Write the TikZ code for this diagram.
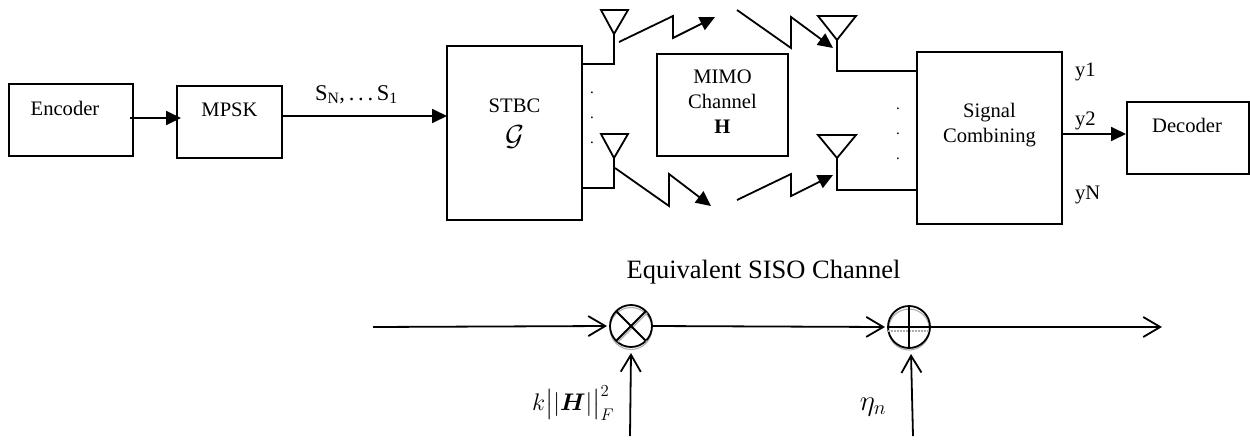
\RequirePackage{fix-cm}
\documentclass[tikz,border=0pt]{standalone}
\usepackage{amsmath}
\usepackage{fontspec}
\setmainfont{Liberation Serif}
\usetikzlibrary{arrows.meta}
\tikzset{
  box/.style={draw=black,line width=1.8pt,fill=none,inner sep=0pt,outer sep=0pt},
  lbl/.style={inner sep=0pt,outer sep=0pt,align=center,font=\fontsize{20.6}{25}\selectfont},
  biglbl/.style={inner sep=0pt,outer sep=0pt,font=\fontsize{26.5}{30}\selectfont},
  subslbl/.style={inner sep=0pt,outer sep=0pt,font=\fontsize{22.5}{26}\selectfont},
  mathlbl/.style={inner sep=0pt,outer sep=0pt,font=\fontsize{24}{28}\selectfont},
  etalbl/.style={inner sep=0pt,outer sep=0pt,font=\fontsize{29}{32}\selectfont},
  dotlbl/.style={inner sep=0pt,outer sep=0pt,anchor=base,font=\fontsize{15}{18}\selectfont},
  wire/.style={draw=black,line width=1.8pt,line join=miter},
  solidarr/.style={wire,-{Triangle[length=15pt,width=14pt]}},
  openarr/.style={wire,-{Straight Barb[length=17pt,width=20pt,line width=1.8pt]}},
  sumnode/.style={circle,draw=black,line width=1.8pt,inner sep=0pt,outer sep=0pt,minimum size=42pt},
  shadow/.style={draw=gray!65,line width=1.1pt},
}
\begin{document}
\begin{tikzpicture}[x=1pt,y=-1pt]
\useasboundingbox (0,0) rectangle (1250,439);
% boxes
\node[box,minimum width=124pt,minimum height=72pt] (enc) at (71,120) {};
\node[box,minimum width=105pt,minimum height=72pt] (mpsk) at (229.5,122) {};
\node[box,minimum width=135pt,minimum height=174pt] (stbc) at (514.5,133) {};
\node[box,minimum width=131pt,minimum height=102pt] (mimo) at (722.5,105) {};
\node[box,minimum width=145pt,minimum height=172pt] (comb) at (989.5,138) {};
\node[box,minimum width=122pt,minimum height=72pt] (dec) at (1188,138) {};
% box texts
\node[lbl] (tenc) at (65,108) {Encoder};
\node[lbl] (tmpsk) at (229.5,110) {MPSK};
\node[lbl] (tstbc) at (514.5,106) {STBC};
\node[etalbl] (tg) at (514.5,137) {$\mathcal{G}$};
\node[lbl] (tmimo) at (722.5,102) {MIMO\\Channel\\\textbf{H}};
\node[lbl] (tcomb) at (989.5,125) {Signal\\Combining};
\node[lbl] (tdec) at (1187,125) {Decoder};
\node[subslbl,anchor=base west] (ts) at (315,100) {S\textsubscript{N},\,.\,.\,.\,S\textsubscript{1}};
\node[lbl,anchor=base west] (y1) at (1075,76) {y1};
\node[lbl,anchor=base west] (y2) at (1075,125) {y2};
\node[lbl,anchor=base west] (yN) at (1075,199) {yN};
\node[biglbl,anchor=base] (teq) at (763.5,278) {Equivalent SISO Channel};
\node[mathlbl] (tk) at (573,403) {$k\big||\boldsymbol{H}|\big|_F^2$};
\node[etalbl] (teta) at (873,407) {$\eta_n$};
% dots
\foreach \i/\y in {1/93,2/118,3/143}{\node[dotlbl] (dl\i) at (592,\y) {.};}
\foreach \i/\y in {1/109,2/134,3/159}{\node[dotlbl] (dr\i) at (898,\y) {.};}
% antennas
\coordinate (a1) at (614,34);
\coordinate (a2) at (614,158);
\coordinate (a3) at (837,40);
\coordinate (a4) at (837,158);
\draw[wire] (601,10) -- (628,10) -- (a1) -- cycle;
\draw[wire] (601,134) -- (628,134) -- (a2) -- cycle;
\draw[wire] (818,16) -- (856,16) -- (a3) -- cycle;
\draw[wire] (818,135) -- (856,135) -- (a4) -- cycle;
\draw[wire] (a1) |- (stbc.east |- 0,64);
\draw[wire] (a2) |- (stbc.east |- 0,188);
\draw[wire] (a3) |- (comb.west |- 0,71);
\draw[wire] (a4) |- (comb.west |- 0,190);
% zigzags
\draw[solidarr] (619,42) -- (673,16) -- (673,38) -- (715,17);
\draw[solidarr] (737,10) -- (791,48) -- (791,17) -- (833,48);
\draw[solidarr] (615,168) -- (669,206) -- (669,174) -- (711,206);
\draw[solidarr] (737,200) -- (791,174) -- (791,196) -- (833,175);
% top arrows
\draw[solidarr] ([xshift=-3pt,yshift=2pt]enc.east) -- ([xshift=4pt,yshift=4pt]mpsk.west);
\draw[solidarr] ([yshift=6pt]mpsk.east) -- ([yshift=17pt]stbc.west);
\draw[solidarr] ([yshift=4pt]comb.east) -- ([xshift=-1pt,yshift=4pt]dec.west);
% summing nodes
\draw[shadow] (631,328.5) circle (21);
\draw[shadow] (909,329.5) circle (20.5);
\node[sumnode] (mul) at (631,326) {};
\node[sumnode] (add) at (909,327) {};
\draw[shadow] ([xshift=1.5pt,yshift=-1.5pt]mul.north west) -- ([xshift=1.5pt,yshift=-1.5pt]mul.south east);
\draw[shadow] ([xshift=1.5pt,yshift=-1.5pt]mul.south west) -- ([xshift=1.5pt,yshift=-1.5pt]mul.north east);
\draw[shadow,dashed,dash pattern=on 2pt off 1pt] ([yshift=-4pt]add.west) -- ([yshift=-4pt]add.east);
\draw[wire] (mul.north west) -- (mul.south east);
\draw[wire] (mul.south west) -- (mul.north east);
\draw[wire] (add.north) -- (add.south);
\draw[wire] (add.west) -- (add.east);
% equivalent channel connectors
\coordinate (in) at (373,327);
\coordinate (out) at (1162,327);
\coordinate (k) at (630,436);
\coordinate (n) at (913,436);
\draw[openarr] (in) -- ([xshift=-3pt]mul.west);
\draw[openarr] (mul.east) -- ([xshift=-3pt]add.west);
\draw[openarr] (add.east) -- (out);
\draw[openarr] (k) -- ([yshift=-6pt]mul.south);
\draw[openarr] (n) -- ([xshift=2pt,yshift=-6pt]add.south);
\end{tikzpicture}
\end{document}
